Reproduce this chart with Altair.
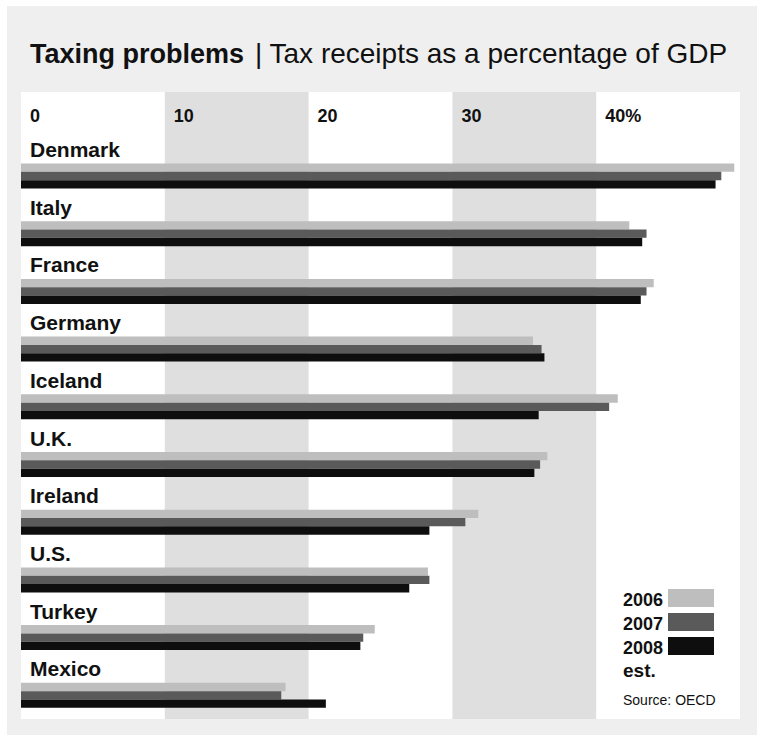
import altair as alt
import pandas as pd

# ---- data ----
countries = ["Denmark", "Italy", "France", "Germany", "Iceland", "U.K.",
             "Ireland", "U.S.", "Turkey", "Mexico"]
years = ["2006", "2007", "2008"]
v2006 = [49.6, 42.3, 44.0, 35.6, 41.5, 36.6, 31.8, 28.3, 24.6, 18.4]
v2007 = [48.7, 43.5, 43.5, 36.2, 40.9, 36.1, 30.9, 28.4, 23.8, 18.1]
v2008 = [48.3, 43.2, 43.1, 36.4, 36.0, 35.7, 28.4, 27.0, 23.6, 21.2]
tick_values = [0, 10, 20, 30, 40]
tick_labels = ["0", "10", "20", "30", "40%"]
band_starts = [10, 30]
band_ends = [20, 40]
legend_labels = ["2006", "2007", "2008"]
colors = ["#bebebe", "#5a5a5a", "#0e0e0e"]

title_bold = "Taxing problems"
title_rest = "| Tax receipts as a percentage of GDP"
source_text = "Source: OECD"

FONT = "Liberation Sans"
INK = "#111111"
W, H = 719, 627

rows = []
for i, c in enumerate(countries):
    for y, vals in zip(years, [v2006, v2007, v2008]):
        rows.append({"country": c, "year": y, "value": vals[i]})
bars_df = pd.DataFrame(rows)
ticks_df = pd.DataFrame({"v": tick_values, "label": tick_labels})
bands_df = pd.DataFrame({"a": band_starts, "b": band_ends})
countries_df = pd.DataFrame({"country": countries})
one = pd.DataFrame({"k": [0]})

xscale = alt.Scale(domain=[0, 50], nice=False, zero=True)
yscale = alt.Scale(domain=countries, range=[71.5, 615.8], paddingInner=0.567, paddingOuter=0)
cscale = alt.Scale(domain=years, range=colors)

outer = alt.Chart(one).mark_rect(color="#efefef").encode(
    x=alt.value(-14), x2=alt.value(736), y=alt.value(-86), y2=alt.value(643))
inner = alt.Chart(one).mark_rect(color="#ffffff").encode(
    x=alt.value(0), x2=alt.value(W), y=alt.value(0), y2=alt.value(H))

bands = alt.Chart(bands_df).mark_rect(color="#dfdfdf").encode(
    x=alt.X("a:Q", scale=xscale, axis=None), x2="b:Q",
    y=alt.value(0), y2=alt.value(H))

ticks = alt.Chart(ticks_df).mark_text(
    align="left", baseline="alphabetic", dx=9, font=FONT, fontSize=18,
    fontWeight="bold", color=INK).encode(
    x=alt.X("v:Q", scale=xscale, axis=None), y=alt.value(30), text="label:N")

bars = alt.Chart(bars_df).mark_bar().encode(
    x=alt.X("value:Q", scale=xscale, axis=None),
    y=alt.Y("country:N", scale=yscale, axis=None),
    yOffset=alt.YOffset("year:N", sort=years, scale=alt.Scale(paddingInner=0, paddingOuter=0)),
    color=alt.Color("year:N", scale=cscale, legend=None),
)

labels = alt.Chart(countries_df).mark_text(
    align="left", baseline="alphabetic", dy=-6.5, font=FONT, fontSize=21,
    fontWeight="bold", color=INK).encode(
    x=alt.value(9),
    y=alt.Y("country:N", scale=yscale, axis=None, bandPosition=0),
    text="country:N")

title1 = alt.Chart(one).mark_text(
    align="left", baseline="alphabetic", font=FONT, fontSize=27,
    fontWeight="bold", color=INK, text=title_bold).encode(
    x=alt.value(9), y=alt.value(-29))
title2 = alt.Chart(one).mark_text(
    align="left", baseline="alphabetic", font=FONT, fontSize=28,
    fontWeight="normal", color=INK, text=title_rest).encode(
    x=alt.value(234), y=alt.value(-29))

legend_layers = []
for i, lab in enumerate(legend_labels):
    ldf = pd.DataFrame({"year": [years[i]], "label": [lab]})
    legend_layers.append(alt.Chart(ldf).mark_rect().encode(
        x=alt.value(647), x2=alt.value(693),
        y=alt.value(497 + 24 * i), y2=alt.value(515 + 24 * i),
        color=alt.Color("year:N", scale=cscale, legend=None)))
    legend_layers.append(alt.Chart(ldf).mark_text(
        align="left", baseline="alphabetic", font=FONT, fontSize=18,
        fontWeight="bold", color=INK).encode(
        x=alt.value(602), y=alt.value(514 + 24 * i), text="label:N"))

est = alt.Chart(one).mark_text(
    align="left", baseline="alphabetic", font=FONT, fontSize=19,
    fontWeight="bold", color=INK, text="est.").encode(
    x=alt.value(602), y=alt.value(585))
source = alt.Chart(one).mark_text(
    align="left", baseline="alphabetic", font=FONT, fontSize=14,
    fontWeight="normal", color=INK, text=source_text).encode(
    x=alt.value(602), y=alt.value(613))

chart = alt.layer(
    outer, inner, bands, ticks, bars, labels, title1, title2,
    *legend_layers, est, source
).properties(
    width=W, height=H,
    autosize=alt.AutoSizeParams(type="none"),
    padding={"left": 21, "top": 92, "right": 23, "bottom": 16},
    background="#ffffff",
).configure_view(stroke=None)

chart.save("out.html", embed_options={"renderer": "svg", "actions": False})
